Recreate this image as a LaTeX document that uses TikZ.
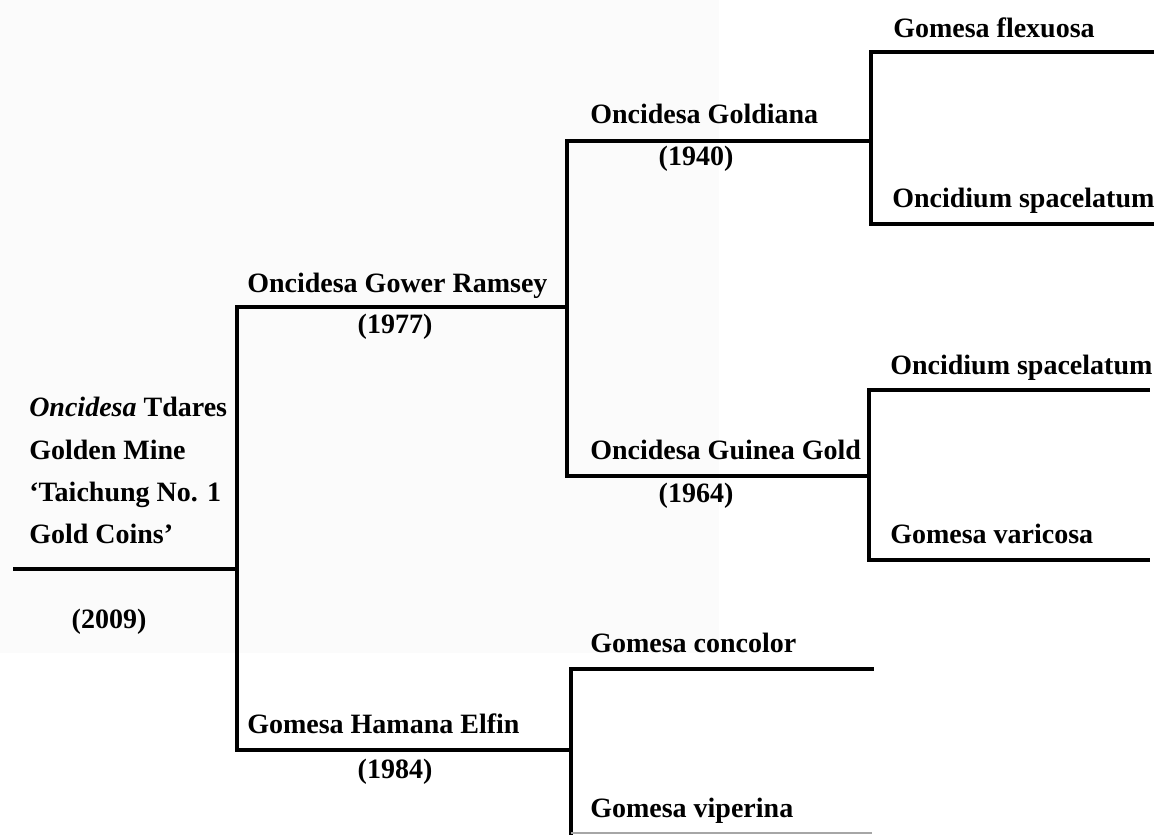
\documentclass[tikz,border=0pt]{standalone}
\usepackage{fontspec}
\setmainfont{Liberation Serif}
\begin{document}
\begin{tikzpicture}[x=0.75pt,y=-0.75pt,
  branch/.style={line width=2.3pt,line cap=rect},
  lbl/.style={inner sep=0pt,anchor=base west,font=\fontsize{21pt}{25pt}\selectfont\bfseries},
  yr/.style={inner sep=0pt,anchor=base,font=\fontsize{21pt}{25pt}\selectfont\bfseries}]
\useasboundingbox (0,0) rectangle (1164,835);
\fill[white] (0,0) rectangle (1164,835);
\fill[black!1.5] (0,0) rectangle (719,653);
% coordinates
\coordinate (r0) at (15,569);
\coordinate (r1) at (237,569);
\coordinate (aT) at (237,307);
\coordinate (aB) at (237,750);
\coordinate (gr) at (567,307);
\coordinate (grT) at (567,141);
\coordinate (grB) at (567,476);
\coordinate (go) at (871,141);
\coordinate (goT) at (871,52);
\coordinate (goB) at (871,224);
\coordinate (goT2) at (1152,52);
\coordinate (goB2) at (1152,224);
\coordinate (gg) at (869,476);
\coordinate (ggT) at (869,390);
\coordinate (ggB) at (869,560);
\coordinate (ggT2) at (1148,390);
\coordinate (ggB2) at (1148,560);
\coordinate (he) at (571,750);
\coordinate (heT) at (571,669);
\coordinate (heB) at (571,835);
\coordinate (heT2) at (872,669);
\coordinate (heB0) at (571,833);
\coordinate (heB2) at (872,833);
% branches
\draw[branch] (r0) -- (r1);
\draw[branch] (aT) -- (aB);
\draw[branch] (aT) -- (gr);
\draw[branch] (grT) -- (grB);
\draw[branch] (grT) -- (go);
\draw[branch] (goT) -- (goB);
\draw[branch] (goT) -- (goT2);
\draw[branch] (goB) -- (goB2);
\draw[branch] (grB) -- (gg);
\draw[branch] (ggT) -- (ggB);
\draw[branch] (ggT) -- (ggT2);
\draw[branch] (ggB) -- (ggB2);
\draw[branch] (aB) -- (he);
\draw[branch] (heT) -- (heB);
\draw[branch] (heT) -- (heT2);
\draw[line width=0.8pt,black!35] (heB0) -- (heB2);
% labels
\node[lbl] (t1) at (29,416) {\textit{Oncidesa} Tdares};
\node[lbl] (t2) at (29,459) {Golden Mine};
\node[lbl] (t3) at (29,501) {‘Taichung No. 1};
\node[lbl] (t4) at (29,543) {Gold Coins’};
\node[yr] (y0) at (109,628) {(2009)};
\node[lbl] (n1) at (247,292) {Oncidesa Gower Ramsey};
\node[yr] (y1) at (395,333) {(1977)};
\node[lbl] (n2) at (247,733) {Gomesa Hamana Elfin};
\node[yr] (y2) at (395,778) {(1984)};
\node[lbl] (n3) at (590,123) {Oncidesa Goldiana};
\node[yr] (y3) at (696,165) {(1940)};
\node[lbl] (n4) at (590,459) {Oncidesa Guinea Gold};
\node[yr] (y4) at (696,502) {(1964)};
\node[lbl] (n5) at (590,652) {Gomesa concolor};
\node[lbl] (n6) at (590,817) {Gomesa viperina};
\node[lbl] (n7) at (893,37) {Gomesa flexuosa};
\node[lbl] (n8) at (892,207) {Oncidium spacelatum};
\node[lbl] (n9) at (890,374) {Oncidium spacelatum};
\node[lbl] (n10) at (890,543) {Gomesa varicosa};
\end{tikzpicture}
\end{document}
